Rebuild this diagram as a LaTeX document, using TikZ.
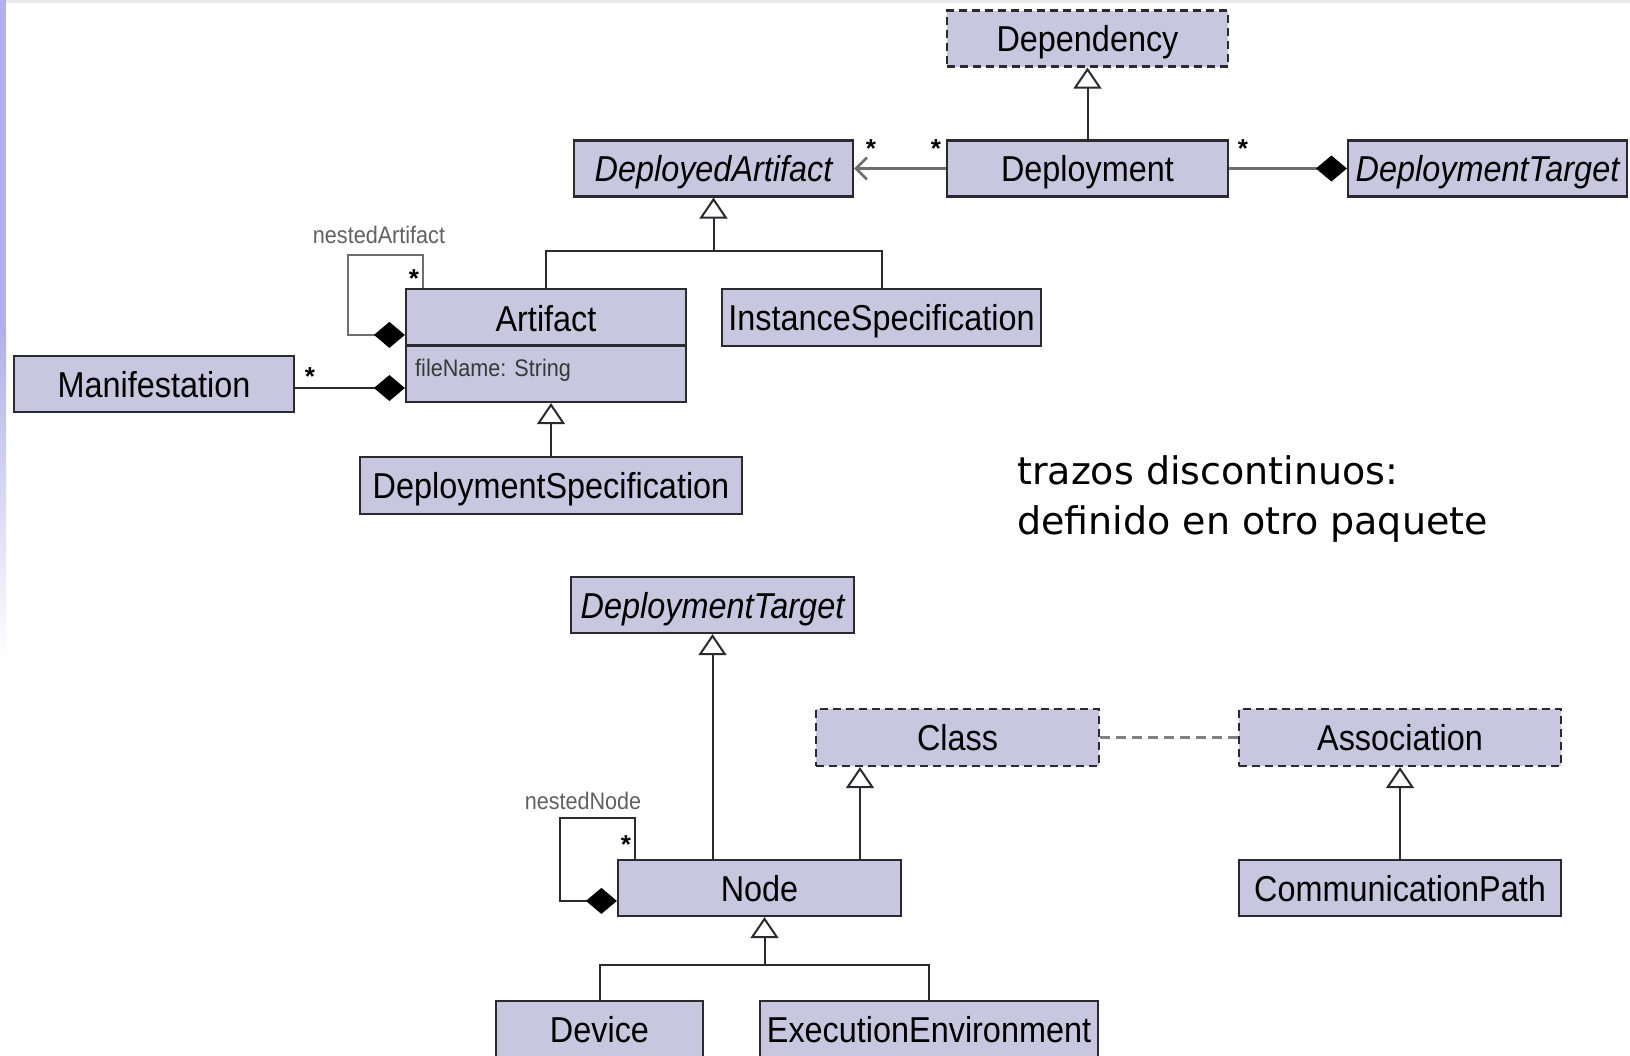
\documentclass[tikz,border=0pt]{standalone}
\usepackage{fontspec}
\usepackage{graphicx}
\setmainfont{Liberation Sans}
\newfontfamily\notefont{DejaVu Sans}
\usetikzlibrary{arrows.meta,calc}

\definecolor{umlfill}{RGB}{201,199,224}
\definecolor{umledge}{RGB}{42,42,48}
\definecolor{assocgray}{RGB}{110,110,112}
\definecolor{stripe}{RGB}{178,176,232}

% condensed class-name lettering
\newcommand{\cond}[1]{\scalebox{0.9}[1]{#1}}

\begin{document}
\begin{tikzpicture}[x=1pt,y=-1pt,
  cls/.style={draw=umledge, line width=2.2pt, fill=umlfill, inner sep=0pt,
    minimum height=56pt, text height=26pt, text depth=0pt,
    font=\fontsize{36}{40}\selectfont},
  ext/.style={cls, dash pattern=on 8pt off 5pt},
  title/.style={inner sep=0pt, text height=26pt, text depth=0pt,
    font=\fontsize{36}{40}\selectfont},
  conn/.style={draw=umledge, line width=2pt},
  assoc/.style={draw=assocgray, line width=2.6pt},
  gen/.style={conn, -{Triangle[open,width=28pt,length=21pt,fill=white]}},
  comp/.style={{Diamond[length=31pt,width=26pt,fill=black,color=black]}-},
  mult/.style={font=\bfseries\fontsize{26}{26}\selectfont, inner sep=0pt},
  role/.style={font=\fontsize{24}{24}\selectfont, text=black!62, inner sep=0pt},
  attr/.style={font=\fontsize{24}{24}\selectfont, text=black!78, inner sep=0pt,
    text height=17pt, text depth=0pt},
  note/.style={font=\notefont\fontsize{38}{50}\selectfont, inner sep=0pt, anchor=base west},
]
\useasboundingbox (0,0) rectangle (1630,1055);
\fill[white] (0,0) rectangle (1630,1055);

% slide edge decoration
\fill[black!8] (0,0) rectangle (1630,2.5);
\fill[stripe] (0,0) rectangle (6,330);
\shade[top color=stripe, bottom color=white] (0,330) rectangle (6,660);

% ---------------- artifacts and deployment ----------------
\node[ext, minimum width=281pt] (dep) at (1087.5,38.5) {\cond{Dependency}};
\node[cls, minimum width=281pt] (dpl) at (1087.5,168.5) {\cond{Deployment}};
\node[cls, minimum width=279pt] (da)  at (713.5,168.5) {\cond{\itshape DeployedArtifact}};
\node[cls, minimum width=279pt] (dt1) at (1487.5,168.5) {\cond{\itshape DeploymentTarget}};

\node[cls, minimum width=280pt, minimum height=113pt] (art) at (546,345.5) {};
\node[title] (artname) at (546,318) {\cond{Artifact}};
\draw[umledge, line width=2.2pt] (art.west) -- (art.east);
\node[attr, anchor=west] (artattr) at (415,368) {\cond{fileName: String}};

\node[cls, minimum width=319pt, minimum height=57pt] (inst) at (881.5,317.5) {\cond{InstanceSpecification}};
\node[cls, minimum width=280pt] (man) at (154,384) {\cond{Manifestation}};
\node[cls, minimum width=382pt, minimum height=57pt] (dspec) at (551,485.5) {\cond{DeploymentSpecification}};

% generalizations
\draw[gen] (dpl.north) -- (dep.south);
\coordinate (j1) at ($(da.south)+(0,53)$);
\draw[conn] (art.north) |- (j1) -| (inst.north);
\draw[gen] (j1) -- (da.south);
\draw[gen] (dspec.north) -- (dspec.north |- art.south);

% associations
\draw[assoc, -{Straight Barb[length=11pt,width=22pt]}] (dpl.west) -- (da.east);
\draw[assoc, comp] (dt1.west) -- (dpl.east);
\node[mult] (m1) at (871,149) {*};
\node[mult] (m2) at (936,149) {*};
\node[mult] (m3) at (1243,149) {*};

\coordinate (mancon) at ($(man.east)+(0,4)$);
\draw[conn, comp] (art.west |- mancon) -- (mancon);
\node[mult] (m4) at (310,377) {*};

\draw[assoc, line width=2.2pt, comp] ($(art.north west)+(0,47)$) -- ++(-57,0)
  |- ($(art.north west)+(18,-33)$) -- ($(art.north west)+(18,0)$);
\node[mult] (m5) at (414,279) {*};
\node[role] (nart) at (379,235) {\cond{nestedArtifact}};

% note
\node[note] (note1) at (1017,484) {trazos discontinuos:};
\node[note] (note2) at (1017,534) {definido en otro paquete};

% ---------------- nodes ----------------
\node[cls, minimum width=283pt] (dt2) at (712.5,605) {\cond{\itshape DeploymentTarget}};
\node[ext, minimum width=283pt, minimum height=57pt] (class) at (957.5,737.5) {\cond{Class}};
\node[ext, minimum width=322pt, minimum height=57pt] (asn) at (1400,737.5) {\cond{Association}};
\node[cls, minimum width=283pt] (nd) at (759.5,888) {\cond{Node}};
\node[cls, minimum width=322pt] (cp) at (1400,888) {\cond{CommunicationPath}};
\node[cls, minimum width=207pt] (dev) at (599.5,1029) {\cond{Device}};
\node[cls, minimum width=338pt] (ee) at (929,1029) {\cond{ExecutionEnvironment}};

\draw[gen] (nd.north -| dt2.south) -- (dt2.south);
\coordinate (nc) at ($(nd.north)+(100.5,0)$);
\draw[gen] (nc) -- (nc |- class.south);
\draw[gen] (cp.north) -- (asn.south);
\draw[assoc, draw=black!50, line width=3pt, dash pattern=on 10pt off 6pt] (class.east) -- (asn.west);

\coordinate (j2) at ($(nd.south)+(5,48)$);
\draw[conn] (dev.north) |- (j2) -| (ee.north);
\draw[gen] (j2) -- (j2 |- nd.south);

\draw[conn, comp] ($(nd.north west)+(0,42)$) -- ++(-57,0)
  |- ($(nd.north west)+(18,-41)$) -- ($(nd.north west)+(18,0)$);
\node[mult] (m6) at (626,845) {*};
\node[role] (nnode) at (583,801) {\cond{nestedNode}};
\end{tikzpicture}
\end{document}
